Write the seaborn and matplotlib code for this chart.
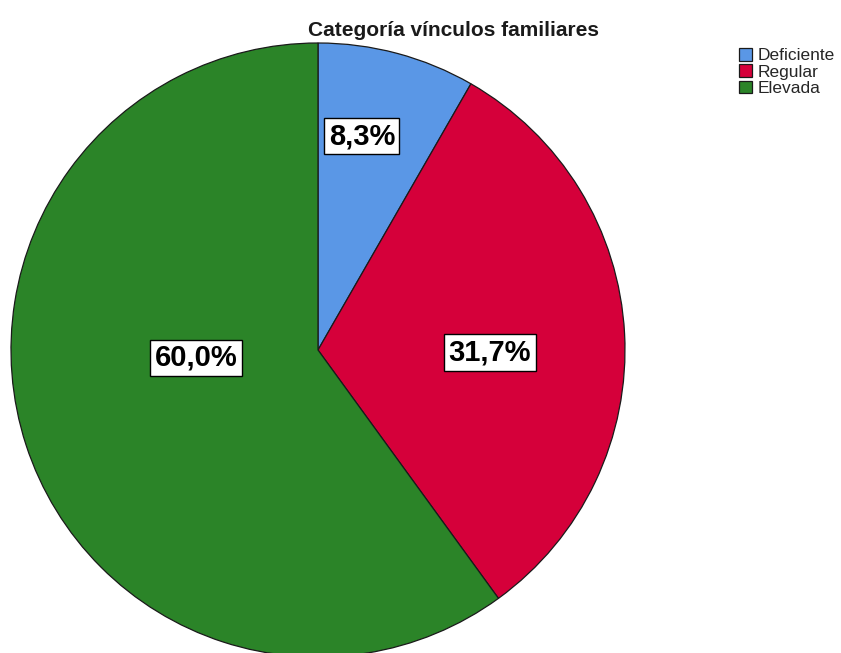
import matplotlib
matplotlib.use("Agg")
import matplotlib.pyplot as plt
import seaborn as sns

# data
categorias = ["Deficiente", "Regular", "Elevada"]
porcentajes = [8.3, 31.7, 60.0]
etiquetas = ["8,3%", "31,7%", "60,0%"]
colores = ["#5A97E6", "#D5003A", "#2B8428"]

# label positions (pie units, radius 1), layout only
label_pos = [(0.143, 0.697), (0.56, -0.007), (-0.397, -0.026)]

sns.set_theme(style="white")
plt.rcParams["font.family"] = ["Liberation Sans", "DejaVu Sans"]

fig = plt.figure(figsize=(8.41, 6.53), dpi=100)
W, H = 841, 653
cx, cy, r = 318, 350, 307
ax = fig.add_axes([(cx - r) / W, (H - cy - r) / H, 2 * r / W, 2 * r / H])

wedges, _ = ax.pie(porcentajes, colors=colores, startangle=90, counterclock=False,
                   radius=1, wedgeprops=dict(edgecolor="#1a1a1a", linewidth=0.9))
ax.set_xlim(-1, 1)
ax.set_ylim(-1, 1)
ax.set_aspect("equal")
ax.set_axis_off()

for (x, y), txt in zip(label_pos, etiquetas):
    ax.text(x, y, txt, ha="center", va="center", fontsize=21, fontweight="bold",
            color="black",
            bbox=dict(boxstyle="square,pad=0.15", facecolor="white", edgecolor="black", linewidth=1))

fig.text(453 / W, 1 - 30 / H, "Categoría vínculos familiares", ha="center", va="center",
         fontsize=15, fontweight="bold", color="#1a1a1a")

fig.legend(wedges, categorias, loc="upper left", bbox_to_anchor=(739 / W, 1 - 48 / H),
           frameon=False, fontsize=12.5, handlelength=0.75, handleheight=0.75,
           handletextpad=0.3, labelspacing=0.05, borderaxespad=0, borderpad=0)

fig.savefig("out.png", dpi=100)
